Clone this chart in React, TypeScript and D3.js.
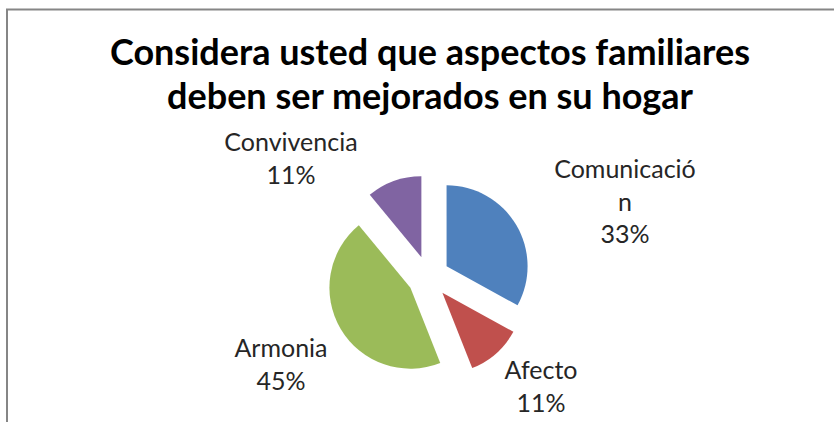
import { useMemo } from "react";
import * as d3 from "d3";

// chart data
const categories = ["Comunicación", "Afecto", "Armonia", "Convivencia"];
const nameLines = [["Comunicació", "n"], ["Afecto"], ["Armonia"], ["Convivencia"]];
const values = [33, 11, 45, 11];
const colors = ["#4F81BD", "#C0504D", "#9BBB59", "#8064A2"];
const titleLines = [
  "Considera usted que aspectos familiares",
  "deben ser mejorados en su hogar",
];

// label anchors: centre x, first baseline y
const labelAnchors: [number, number][] = [
  [625, 178],
  [541, 379],
  [281, 357],
  [291, 151],
];

const W = 834;
const H = 422;

export default function App() {
  const cx = 428.5;
  const cy = 277;
  const radius = 81;
  const explode = 21;
  const lineH = 32.5;

  const arcs = useMemo(() => {
    const pie = d3
      .pie<number>()
      .sort(null)
      .value((d) => d);
    return pie(values);
  }, []);

  const arc = d3.arc<d3.PieArcDatum<number>>().innerRadius(0).outerRadius(radius);
  const total = d3.sum(values);
  const pct = d3.format(".0%");

  return (
    <svg
      width={W}
      height={H}
      style={{ position: "absolute", left: 0, top: 0, background: "#fff" }}
    >
      <rect x={0} y={0} width={W} height={H} fill="#fff" />
      {/* chart frame */}
      <path d={`M7,${H} V9.5 H${W}`} fill="none" stroke="#868686" strokeWidth={2} />

      <text
        x={430}
        y={65}
        textAnchor="middle"
        fontFamily="Lato, 'Open Sans', sans-serif"
        fontWeight="bold"
        fontSize={36}
        fill="#000"
      >
        {titleLines.map((t, i) => (
          <tspan key={i} x={430} y={65 + i * 44}>
            {t}
          </tspan>
        ))}
      </text>

      <g transform={`translate(${cx},${cy})`}>
        {arcs.map((a, i) => {
          const mid = (a.startAngle + a.endAngle) / 2;
          const dx = Math.sin(mid) * explode;
          const dy = -Math.cos(mid) * explode;
          return (
            <path
              key={categories[i]}
              d={arc(a) ?? ""}
              fill={colors[i]}
              transform={`translate(${dx},${dy})`}
            />
          );
        })}
      </g>

      {arcs.map((a, i) => {
        const [lx, ly] = labelAnchors[i];
        const lines = [...nameLines[i], pct(a.value / total)];
        return (
          <text
            key={categories[i]}
            textAnchor="middle"
            fontFamily="Lato, 'Open Sans', sans-serif"
            fontSize={25}
            fill="#262626"
          >
            {lines.map((t, j) => (
              <tspan key={j} x={lx} y={ly + j * lineH}>
                {t}
              </tspan>
            ))}
          </text>
        );
      })}
    </svg>
  );
}
